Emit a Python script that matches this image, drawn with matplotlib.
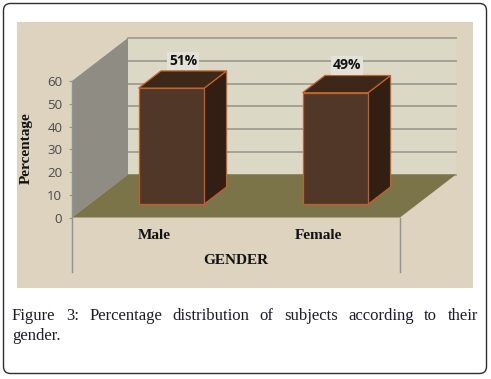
import matplotlib
matplotlib.use('Agg')
import matplotlib.pyplot as plt
from matplotlib.patches import Polygon, FancyBboxPatch, Rectangle
from matplotlib.lines import Line2D
import matplotlib.transforms as mtransforms

# ---------------- data ----------------
categories = ['Male', 'Female']
percentages = [51, 49]
value_labels = ['51%', '49%']
y_ticks = [0, 10, 20, 30, 40, 50, 60]
x_title = 'GENDER'
y_title = 'Percentage'
caption_line1 = 'Figure 3: Percentage distribution of subjects according to their'
caption_line2 = 'gender.'

# ---------------- figure ----------------
W, H = 491, 379
fig = plt.figure(figsize=(W / 100, H / 100), dpi=100)
pix = mtransforms.Affine2D().scale(1 / W, -1 / H).translate(0, 1) + fig.transFigure

# outer rounded frame
fig.patches.append(FancyBboxPatch((3.5, 3.5), 483, 370,
                                  boxstyle='round,pad=0,rounding_size=7',
                                  transform=pix, fc='white', ec='#2e2e2e', lw=1.0,
                                  zorder=-10))
# chart area background
fig.patches.append(Rectangle((17, 22), 456, 266, transform=pix,
                             fc='#ddd3bf', ec='none', zorder=-9))

ax = fig.add_axes([72 / W, 1 - 217.5 / H, 328 / W, 136.5 / H])
ax.set_xlim(0, 2)
ax.set_ylim(0, 60)
ax.patch.set_visible(False)
for s in ax.spines.values():
    s.set_visible(False)

# depth offset (in data units)
DX = 56 * 2 / 328
DY = 43 * 60 / 136.5


def proj(x, y, d):
    return (x + d * DX, y + d * DY)


def poly(pts, fc, ec='none', lw=0, z=1):
    p = Polygon([proj(*q) for q in pts], closed=True, fc=fc, ec=ec, lw=lw,
                zorder=z, clip_on=False, transform=ax.transData, joinstyle='miter')
    ax.add_patch(p)


ymax = 60
xmax = len(categories)
# back wall
poly([(0, 0, 1), (xmax, 0, 1), (xmax, ymax, 1), (0, ymax, 1)], '#dbd8c5', z=1)
# gridlines on back wall
for t in y_ticks:
    (x0, y0), (x1, y1) = proj(0, t, 1), proj(xmax, t, 1)
    ax.add_line(Line2D([x0, x1], [y0, y1], color='#a09e93', lw=1.3,
                       zorder=1.5, clip_on=False))
# left wall
poly([(0, 0, 0), (0, ymax, 0), (0, ymax, 1), (0, 0, 1)], '#8e8c83', z=2)
# floor
poly([(0, 0, 0), (xmax, 0, 0), (xmax, 0, 1), (0, 0, 1)], '#7b7449', z=2)

# axis lines (front)
ax.add_line(Line2D([0, 0], [-24, ymax], color='#8d929c', lw=1.0, zorder=2.5, clip_on=False))
ax.add_line(Line2D([xmax, xmax], [-24, 0], color='#8d929c', lw=1.0, zorder=2.5, clip_on=False))

# bars
w = 0.2
d0, d1 = 0.31, 0.71
edge = '#c4612a'
for i, v in enumerate(percentages):
    c = i + 0.5
    poly([(c + w, 0, d0), (c + w, 0, d1), (c + w, v, d1), (c + w, v, d0)],
         '#321e13', ec=edge, lw=0.9, z=3 + i)
    poly([(c - w, v, d0), (c + w, v, d0), (c + w, v, d1), (c - w, v, d1)],
         '#3b2819', ec=edge, lw=0.9, z=3 + i)
    poly([(c - w, 0, d0), (c + w, 0, d0), (c + w, v, d0), (c - w, v, d0)],
         '#513727', ec=edge, lw=0.9, z=3.2 + i)
    lx, ly = proj(c, v + 8, 0.52)
    ax.text(lx, ly, value_labels[i], ha='center', va='center', fontsize=10,
            fontweight='bold', family='Open Sans', color='#111111', zorder=6,
            bbox=dict(boxstyle='square,pad=0.15', fc='#e4e2d8', ec='none'))

# ticks
ax.set_yticks(y_ticks)
ax.set_yticklabels([str(t) for t in y_ticks], family='Open Sans', fontsize=9.5,
                   color='#4a4a4a')
ax.tick_params(axis='y', length=2.5, width=0.8, color='#8d929c', pad=4.5)
ax.set_xticks([i + 0.5 for i in range(len(categories))])
ax.set_xticklabels(categories, family='Liberation Serif', fontweight='bold',
                   fontsize=11, color='#111111')
ax.tick_params(axis='x', length=0, pad=8)

ax.set_xlabel(x_title, family='Liberation Serif', fontweight='bold', fontsize=11,
              color='#111111')
ax.xaxis.set_label_coords((236 - 72) / 328, (217.5 - 254) / 136.5)
ax.set_ylabel(y_title, family='Liberation Serif', fontweight='bold', fontsize=11,
              color='#111111')
ax.yaxis.set_label_coords((33 - 72) / 328, (217.5 - 148) / 136.5)

# caption, justified first line
cap_font = dict(family='Liberation Serif', fontsize=12, color='#1c1c26')
renderer = fig.canvas.get_renderer()
words = caption_line1.split(' ')
left, right = 12, 478
texts = []
widths = []
for wd in words:
    t = fig.text(0, 0, wd, transform=pix, va='baseline', ha='left', **cap_font)
    texts.append(t)
    widths.append(t.get_window_extent(renderer).width)
gap = (right - left - sum(widths)) / (len(words) - 1)
x = left
for t, wdt in zip(texts, widths):
    t.set_position((x, 320))
    x += wdt + gap
fig.text(left, 340, caption_line2, transform=pix, va='baseline', ha='left', **cap_font)

fig.savefig('out.png', dpi=100)
